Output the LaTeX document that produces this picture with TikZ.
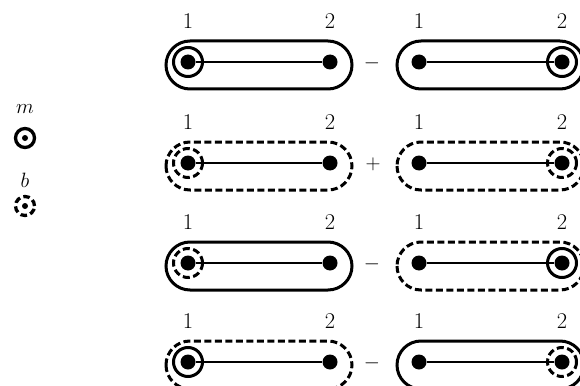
\documentclass[tikz,border=0pt]{standalone}
\begin{document}
\begin{tikzpicture}[x=1pt,y=-1pt,
  dotn/.style={circle,fill=black,inner sep=0pt,minimum size=15pt},
  lab/.style={font=\fontsize{22.5}{26}\selectfont,inner sep=0pt},
  conn/.style={line width=1.8pt},
  solidb/.style={line width=3pt},
  dashb/.style={line width=3pt,dash pattern=on 7pt off 3.5pt},
  ringn/.style={circle,inner sep=0pt,minimum size=29pt,draw},
]
\useasboundingbox (0,0) rectangle (580,385);
\newcommand\mydiag[7]{%
  \node[dotn] (#1a) at (#2,#4) {};
  \node[dotn] (#1b) at (#3,#4) {};
  \draw[conn] (#1a) -- (#1b);
  \node[lab] (#1la) at (#2,#4-41) {1};
  \node[lab] (#1lb) at (#3,#4-41) {2};
  \draw[#5,rounded corners=24pt] (#2-22,#4-21) rectangle (#3+22,#4+27);
  \node[ringn,#6] (#1r) at (#1#7) {};
}
% row 1
\mydiag{ra}{188}{330}{62}{solidb}{solidb}{a}
\mydiag{rb}{419}{562}{62}{solidb}{solidb}{b}
\node[lab] (s1) at (372,63) {$-$};
% row 2
\mydiag{rc}{188}{330}{163}{dashb}{dashb}{a}
\mydiag{rd}{419}{562}{163}{dashb}{dashb}{b}
\node[lab] (s2) at (373,164) {$+$};
% row 3
\mydiag{re}{188}{330}{263}{solidb}{dashb}{a}
\mydiag{rf}{419}{562}{263}{dashb}{solidb}{b}
\node[lab] (s3) at (372,264) {$-$};
% row 4
\mydiag{rg}{188}{330}{362}{dashb}{solidb}{a}
\mydiag{rh}{419}{562}{362}{solidb}{dashb}{b}
\node[lab] (s4) at (372,363) {$-$};
% legend
\node[lab] (m) at (25,109) {$m$};
\node[circle,draw,line width=3.3pt,inner sep=0pt,minimum size=19pt] (mc) at (25,138) {};
\node[circle,fill=black,inner sep=0pt,minimum size=6pt] (md) at (mc) {};
\node[lab] (b) at (25,180) {$b$};
\node[circle,draw,line width=3.3pt,dash pattern=on 6.5pt off 3.5pt,inner sep=0pt,minimum size=19pt] (bc) at (25,206) {};
\node[circle,fill=black,inner sep=0pt,minimum size=6pt] (bd) at (bc) {};
\end{tikzpicture}
\end{document}
